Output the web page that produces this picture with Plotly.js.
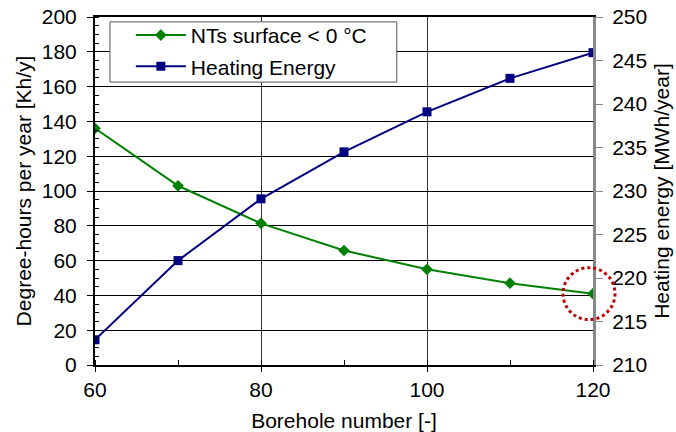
<!DOCTYPE html>
<html><head><meta charset="utf-8">
<script src="https://cdn.plot.ly/plotly-3.0.1.min.js"></script>
<style>body{margin:0;background:#fff}#chart{width:676px;height:432px}</style>
</head><body><div id="chart"></div>
<script>
const boreholes = [60, 70, 80, 90, 100, 110, 120];
const ntsSurface = [136, 103, 81.4, 65.8, 55, 47, 41];
const heatingEnergy = [212.9, 222, 229.1, 234.5, 239.1, 242.95, 245.9];
const seriesNames = ["NTs surface < 0 °C", "Heating Energy"];
const xTitle = "Borehole number [-]";
const yTitle = "Degree-hours per year [Kh/y]";
const y2Title = "Heating energy [MWh/year]";
const xRange = [60, 120];
const yRange = [0, 200];
const highlightX = boreholes[boreholes.length - 1];
const highlightY = ntsSurface[ntsSurface.length - 1];

const font = {family: "Liberation Sans, Arial, sans-serif", size: 21, color: "#000"};
const traces = [
  {x: boreholes, y: ntsSurface, name: seriesNames[0], mode: "lines+markers", yaxis: "y", legendgroup: "a",
   line: {color: "#008000", width: 2}, marker: {symbol: "diamond", size: 9, color: "#008000"}},
  {x: boreholes, y: heatingEnergy, name: seriesNames[1], mode: "lines+markers", yaxis: "y2", legendgroup: "b",
   line: {color: "#000080", width: 2}, marker: {symbol: "square", size: 9, color: "#000080"}}
];
const layout = {
  width: 676, height: 432,
  margin: {l: 95, r: 83, t: 17, b: 67},
  paper_bgcolor: "#fff", plot_bgcolor: "#fff",
  font: font,
  showlegend: true,
  legend: {x: 0.072, y: 1.006, xanchor: "left", yanchor: "top", bgcolor: "rgba(0,0,0,0)",
    borderwidth: 0, font: font, itemwidth: 50, traceorder: "grouped", tracegroupgap: 1},
  xaxis: {range: xRange, dtick: 20, tick0: 60, showgrid: true, gridcolor: "#333", gridwidth: 1,
    showline: true, linecolor: "#000", linewidth: 2, mirror: true, zeroline: false,
    ticks: "outside", ticklen: 5, tickcolor: "#000",
    minor: {dtick: 10, ticks: "inside", ticklen: 5, tickcolor: "#000", showgrid: false},
    title: {text: xTitle, font: font, standoff: 13}, tickfont: font},
  yaxis: {range: yRange, dtick: 20, showgrid: true, gridcolor: "#000", gridwidth: 1,
    showline: true, linecolor: "#000", linewidth: 2, zeroline: false,
    ticks: "outside", ticklen: 6, tickcolor: "#000", ticklabelstandoff: 6,
    minor: {dtick: 5, ticks: "inside", ticklen: 4, tickcolor: "#000", showgrid: false},
    title: {text: yTitle, font: font, standoff: 4}, tickfont: font},
  yaxis2: {range: [210, 250], dtick: 5, overlaying: "y", side: "right", showgrid: false,
    showline: true, linecolor: "#888", linewidth: 3, zeroline: false,
    ticks: "outside", ticklen: 7, tickcolor: "#888", ticklabelstandoff: 5,
    title: {text: y2Title, font: font, standoff: 9}, tickfont: font},
  shapes: [
    {type: "rect", xref: "paper", yref: "paper", x0: 0.030, x1: 0.606, y0: 0.813, y1: 0.986,
     fillcolor: "#fff", line: {color: "#555", width: 1}, layer: "above"},
    {type: "circle", xref: "paper", yref: "paper", xsizemode: "pixel", ysizemode: "pixel",
    xanchor: (highlightX - xRange[0]) / (xRange[1] - xRange[0]),
    yanchor: (highlightY - yRange[0]) / (yRange[1] - yRange[0]),
    x0: -30, x1: 22, y0: -26, y1: 26,
    line: {color: "#c00000", width: 3, dash: "dot"}}]
};
Plotly.newPlot("chart", traces, layout, {displayModeBar: false, staticPlot: true});
</script></body></html>
